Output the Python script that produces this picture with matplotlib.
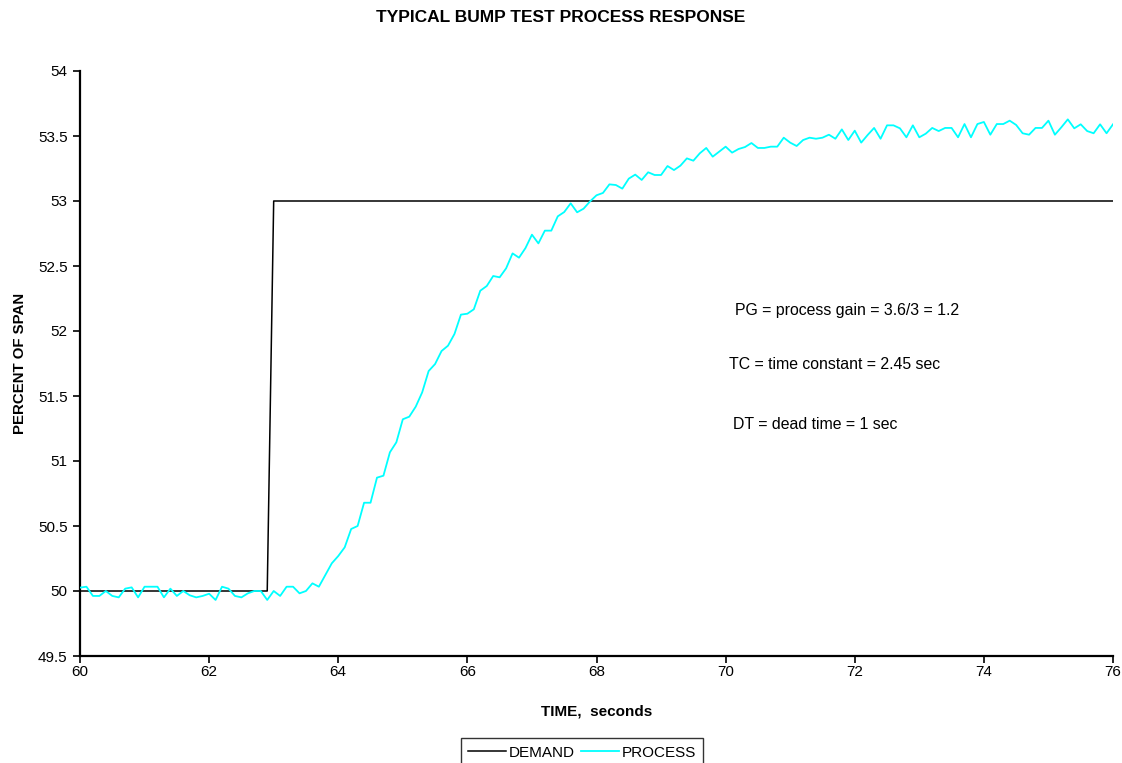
import numpy as np
import matplotlib
matplotlib.use("Agg")
import matplotlib.pyplot as plt

plt.rcParams['font.family'] = ['Liberation Sans', 'DejaVu Sans']

# Demand step (time, value)
demand_t = [60.0, 62.9, 63.0, 76.0]
demand_v = [50.0, 50.0, 53.0, 53.0]

# Process response sampled every 0.1 s from 60.0 s
process_v = [
    50.026, 50.033, 49.962, 49.962, 50.000, 49.962, 49.951, 50.018, 50.028, 49.951,
    50.033, 50.033, 50.033, 49.951, 50.018, 49.962, 50.000, 49.967, 49.951, 49.962,
    49.979, 49.931, 50.033, 50.018, 49.962, 49.951, 49.982, 50.000, 50.000, 49.931,
    50.000, 49.962, 50.033, 50.033, 49.982, 50.000, 50.059, 50.033, 50.123, 50.213,
    50.269, 50.336, 50.477, 50.500, 50.679, 50.679, 50.872, 50.887, 51.067, 51.144,
    51.321, 51.341, 51.418, 51.528, 51.692, 51.746, 51.846, 51.887, 51.977, 52.126,
    52.133, 52.167, 52.310, 52.346, 52.423, 52.413, 52.482, 52.597, 52.564, 52.638,
    52.741, 52.674, 52.772, 52.772, 52.882, 52.915, 52.982, 52.913, 52.941, 52.997,
    53.044, 53.062, 53.128, 53.123, 53.095, 53.172, 53.203, 53.162, 53.221, 53.200,
    53.200, 53.269, 53.238, 53.272, 53.328, 53.310, 53.367, 53.408, 53.341, 53.379,
    53.418, 53.372, 53.400, 53.415, 53.446, 53.408, 53.408, 53.418, 53.418, 53.487,
    53.449, 53.423, 53.469, 53.487, 53.479, 53.487, 53.510, 53.479, 53.551, 53.469,
    53.541, 53.449, 53.508, 53.562, 53.479, 53.582, 53.582, 53.559, 53.490, 53.582,
    53.490, 53.518, 53.562, 53.538, 53.562, 53.562, 53.490, 53.592, 53.490, 53.592,
    53.608, 53.510, 53.592, 53.592, 53.618, 53.585, 53.521, 53.510, 53.562, 53.562,
    53.618, 53.510, 53.567, 53.628, 53.559, 53.590, 53.538, 53.521, 53.590, 53.521,
    53.590,
]
process_t = [round(60.0 + 0.1 * i, 1) for i in range(len(process_v))]

x_ticks = [60, 62, 64, 66, 68, 70, 72, 74, 76]
y_ticks = [49.5, 50, 50.5, 51, 51.5, 52, 52.5, 53, 53.5, 54]
y_labels = ['49.5', '50', '50.5', '51', '51.5', '52', '52.5', '53', '53.5', '54']

notes = [
    (70.14, 52.16, "PG = process gain = 3.6/3 = 1.2"),
    (70.06, 51.74, "TC = time constant = 2.45 sec"),
    (70.12, 51.28, "DT = dead time = 1 sec"),
]

fig = plt.figure(figsize=(11.22, 7.63), dpi=100)
ax = fig.add_axes([80 / 1122, 1 - 656 / 763, (1113 - 80) / 1122, (656 - 71) / 763])

ax.plot(demand_t, demand_v, color='black', lw=1.1, label='DEMAND', zorder=2)
ax.plot(process_t, process_v, color='#00FFFF', lw=1.3, label='PROCESS', zorder=3)

ax.set_xlim(60, 76)
ax.set_ylim(49.5, 54)
ax.set_xticks(x_ticks)
ax.set_xticklabels([str(v) for v in x_ticks])
ax.set_yticks(y_ticks)
ax.set_yticklabels(y_labels)
ax.tick_params(axis='both', labelsize=11, direction='out', length=5, width=1.2, colors='black')
ax.tick_params(axis='x', pad=1.5)
ax.tick_params(axis='y', pad=4)
for s in ['top', 'right']:
    ax.spines[s].set_visible(False)
for s in ['left', 'bottom']:
    ax.spines[s].set_linewidth(1.6)

ax.set_xlabel('TIME,  seconds', fontsize=11, fontweight='bold', labelpad=18)
ax.set_ylabel('PERCENT OF SPAN', fontsize=10.8, fontweight='bold', labelpad=8)

for x, y, s in notes:
    ax.text(x, y, s, fontsize=11.4, ha='left', va='center')

fig.text(0.5, 1 - 18 / 763, 'TYPICAL BUMP TEST PROCESS RESPONSE', ha='center', va='center',
         fontsize=12.5, fontweight='bold')

leg = fig.legend(loc='upper center', bbox_to_anchor=(582 / 1122, 1 - 738 / 763), ncol=2,
                 frameon=True, fancybox=False, fontsize=11, handlelength=2.5,
                 handletextpad=0.15, columnspacing=0.4, borderpad=0.5, borderaxespad=0)
leg.get_frame().set_edgecolor('black')
leg.get_frame().set_linewidth(1.0)

fig.savefig('out.png', dpi=100)
